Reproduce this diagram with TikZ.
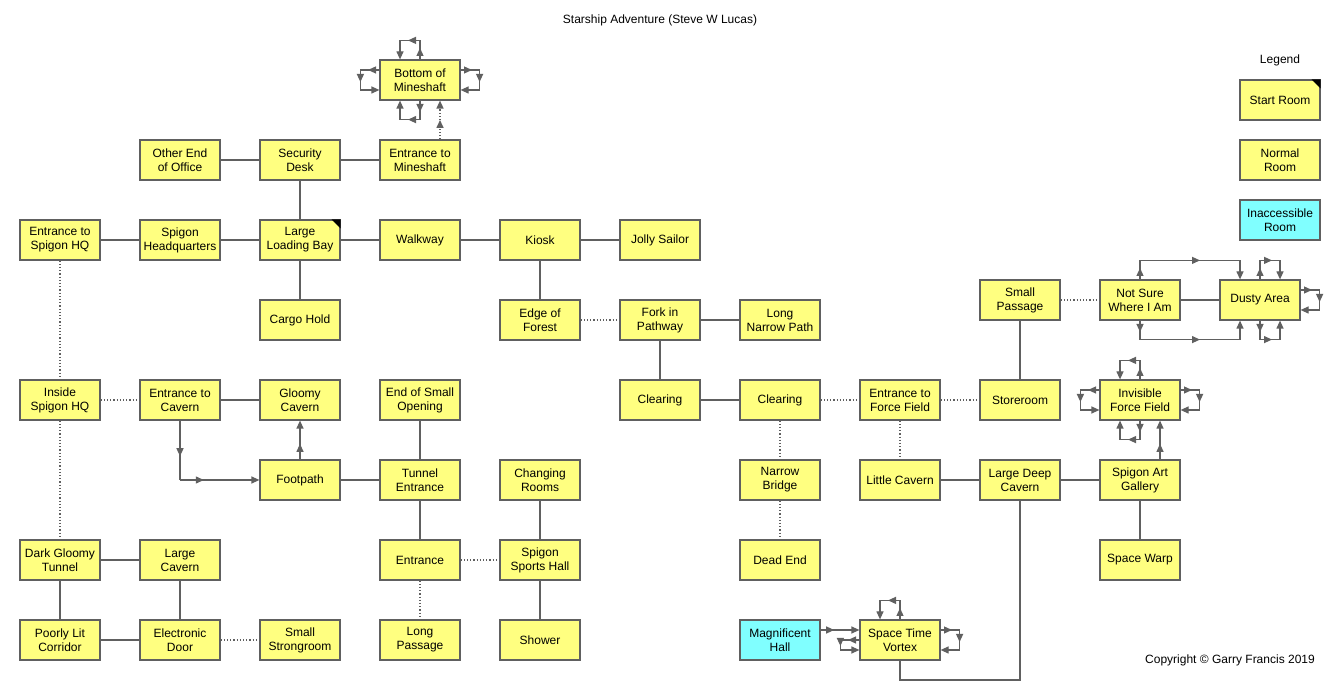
\documentclass[tikz,border=0pt]{standalone}
\usepackage{fontspec}
\setmainfont{Liberation Sans}
\usetikzlibrary{arrows.meta,decorations.markings,calc}
\definecolor{ry}{HTML}{FFFF80}
\definecolor{rc}{HTML}{80FFFF}
\definecolor{ln}{HTML}{606060}
\tikzset{
 room/.style={draw=ln,line width=1.2pt,fill=ry,minimum width=80pt,minimum height=40pt,align=center,inner sep=1pt,font=\fontsize{12}{14}\selectfont},
 inacc/.style={room,fill=rc},
 conn/.style={draw=ln,line width=1.2pt},
 dot/.style={conn,dotted,line width=1.5pt},
 tip/.style={-{Triangle[length=8pt,width=7pt]}},
 mid/.style={conn,postaction={decorate},decoration={markings,mark=at position 0.6 with {\arrow{Triangle[length=8pt,width=7pt]}}}},
 endarr/.style={conn,tip},
}
\newcommand\lp[4]{\draw[mid] #1 -- #2; \draw[mid] #2 -- #3; \draw[endarr] #3 -- #4;}
\newcommand\toploop[3]{\lp{([xshift=#2]#1.north)}{([xshift=#2,yshift=19]#1.north)}{([xshift=#3,yshift=19]#1.north)}{([xshift=#3]#1.north)}}
\newcommand\botloop[3]{\lp{([xshift=#2]#1.south)}{([xshift=#2,yshift=-19]#1.south)}{([xshift=#3,yshift=-19]#1.south)}{([xshift=#3]#1.south)}}
\newcommand\leftloop[3]{\lp{([yshift=#2]#1.west)}{([yshift=#2,xshift=-19]#1.west)}{([yshift=#3,xshift=-19]#1.west)}{([yshift=#3]#1.west)}}
\newcommand\rightloop[3]{\lp{([yshift=#2]#1.east)}{([yshift=#2,xshift=19]#1.east)}{([yshift=#3,xshift=19]#1.east)}{([yshift=#3]#1.east)}}
\begin{document}
\begin{tikzpicture}[x=1pt,y=1pt]
\useasboundingbox (0,0) rectangle (1340,700);
\fill[white] (0,0) rectangle (1340,700);
\node[font=\fontsize{12}{14}\selectfont] (title) at (660,680) {Starship Adventure (Steve W Lucas)};
\node[font=\fontsize{12}{14}\selectfont] (copy) at (1230,40) {Copyright © Garry Francis 2019};
\node[font=\fontsize{12}{14}\selectfont] (leg) at (1280,640) {Legend};
\node[room] (lstart) at (1280,600) {Start Room};
\fill[black] (lstart.north east) -- ++(-9,0) -- ++(9,-9) -- cycle;
\node[room] (lnorm) at (1280,540) {Normal\\Room};
\node[inacc] (linac) at (1280,480) {Inaccessible\\Room};
% rooms
\node[room] (bm) at (420,620) {Bottom of\\Mineshaft};
\node[room] (oe) at (180,540) {Other End\\of Office};
\node[room] (sd) at (300,540) {Security\\Desk};
\node[room] (em) at (420,540) {Entrance to\\Mineshaft};
\node[room] (esh) at (60,460) {Entrance to\\Spigon HQ};
\node[room] (shq) at (180,460) {Spigon\\Headquarters};
\node[room] (llb) at (300,460) {Large\\Loading Bay};
\fill[black] (llb.north east) -- ++(-9,0) -- ++(9,-9) -- cycle;
\node[room] (wk) at (420,460) {Walkway};
\node[room] (ki) at (540,460) {Kiosk};
\node[room] (js) at (660,460) {Jolly Sailor};
\node[room] (ch) at (300,380) {Cargo Hold};
\node[room] (ef) at (540,380) {Edge of\\Forest};
\node[room] (fp) at (660,380) {Fork in\\Pathway};
\node[room] (lnp) at (780,380) {Long\\Narrow Path};
\node[room] (sp) at (1020,400) {Small\\Passage};
\node[room] (ns) at (1140,400) {Not Sure\\Where I Am};
\node[room] (da) at (1260,400) {Dusty Area};
\node[room] (ish) at (60,300) {Inside\\Spigon HQ};
\node[room] (ec) at (180,300) {Entrance to\\Cavern};
\node[room] (gc) at (300,300) {Gloomy\\Cavern};
\node[room] (eso) at (420,300) {End of Small\\Opening};
\node[room] (cl1) at (660,300) {Clearing};
\node[room] (cl2) at (780,300) {Clearing};
\node[room] (eff) at (900,300) {Entrance to\\Force Field};
\node[room] (sr) at (1020,300) {Storeroom};
\node[room] (iff) at (1140,300) {Invisible\\Force Field};
\node[room] (fpa) at (300,220) {Footpath};
\node[room] (te) at (420,220) {Tunnel\\Entrance};
\node[room] (cr) at (540,220) {Changing\\Rooms};
\node[room] (nb) at (780,220) {Narrow\\Bridge};
\node[room] (lc) at (900,220) {Little Cavern};
\node[room] (ldc) at (1020,220) {Large Deep\\Cavern};
\node[room] (sag) at (1140,220) {Spigon Art\\Gallery};
\node[room] (dgt) at (60,140) {Dark Gloomy\\Tunnel};
\node[room] (lcv) at (180,140) {Large\\Cavern};
\node[room] (ent) at (420,140) {Entrance};
\node[room] (ssh) at (540,140) {Spigon\\Sports Hall};
\node[room] (de) at (780,140) {Dead End};
\node[room] (sw) at (1140,140) {Space Warp};
\node[room] (plc) at (60,60) {Poorly Lit\\Corridor};
\node[room] (ed) at (180,60) {Electronic\\Door};
\node[room] (ss) at (300,60) {Small\\Strongroom};
\node[room] (lp) at (420,60) {Long\\Passage};
\node[room] (sh) at (540,60) {Shower};
\node[inacc] (mh) at (780,60) {Magnificent\\Hall};
\node[room] (stv) at (900,60) {Space Time\\Vortex};
% solid connections
\foreach \a/\b in {oe/sd,sd/em,sd/llb,esh/shq,shq/llb,llb/wk,wk/ki,ki/js,llb/ch,ki/ef,fp/lnp,fp/cl1,cl1/cl2,ec/gc,eso/te,fpa/te,te/ent,cr/ssh,ssh/sh,dgt/lcv,dgt/plc,lcv/ed,plc/ed,sp/sr,ns/da,lc/ldc,ldc/sag,sag/sw}
  \draw[conn] (\a) -- (\b);
\foreach \a/\b in {ef/fp,esh/ish,ish/ec,ish/dgt,ed/ss,ent/ssh,ent/lp,cl2/eff,cl2/nb,nb/de,eff/sr,eff/lc,sp/ns}
  \draw[dot] (\a) -- (\b);
\draw[conn] (stv.south) |- (960,20) -| (ldc.south);
% one-way
\draw[dot,tip,postaction={decorate},decoration={markings,mark=at position 0.5 with {\arrow[solid]{Triangle[length=8pt,width=7pt]}}}] ([xshift=20]em.north) -- ([xshift=20]bm.south);
\draw[mid] (ec.south) -- (ec.south |- fpa.west);
\draw[endarr,postaction={decorate},decoration={markings,mark=at position 0.3 with {\arrow{Triangle[length=8pt,width=7pt]}}}] (ec.south |- fpa.west) -- (fpa.west);
\draw[endarr,postaction={decorate},decoration={markings,mark=at position 0.4 with {\arrow{Triangle[length=8pt,width=7pt]}}}] (fpa.north) -- (gc.south);
\draw[endarr,postaction={decorate},decoration={markings,mark=at position 0.35 with {\arrow{Triangle[length=8pt,width=7pt]}}}] ([yshift=10]mh.east) -- ([yshift=10]stv.west);
\lp{(ns.north)}{([yshift=19]ns.north)}{([xshift=-20,yshift=19]da.north)}{([xshift=-20]da.north)}
\lp{(ns.south)}{([yshift=-19]ns.south)}{([xshift=-20,yshift=-19]da.south)}{([xshift=-20]da.south)}
\draw[endarr,postaction={decorate},decoration={markings,mark=at position 0.4 with {\arrow{Triangle[length=8pt,width=7pt]}}}] ([xshift=20]sag.north) -- ([xshift=20]iff.south);
% self loops
\toploop{bm}{0}{-20}\botloop{bm}{0}{-20}\leftloop{bm}{10}{-10}\rightloop{bm}{10}{-10}
\toploop{da}{0}{20}\botloop{da}{0}{20}\rightloop{da}{10}{-10}
\toploop{iff}{0}{-20}\botloop{iff}{0}{-20}\leftloop{iff}{10}{-10}\rightloop{iff}{10}{-10}
\toploop{stv}{0}{-20}\rightloop{stv}{10}{-10}\leftloop{stv}{0}{-10}
\end{tikzpicture}
\end{document}
